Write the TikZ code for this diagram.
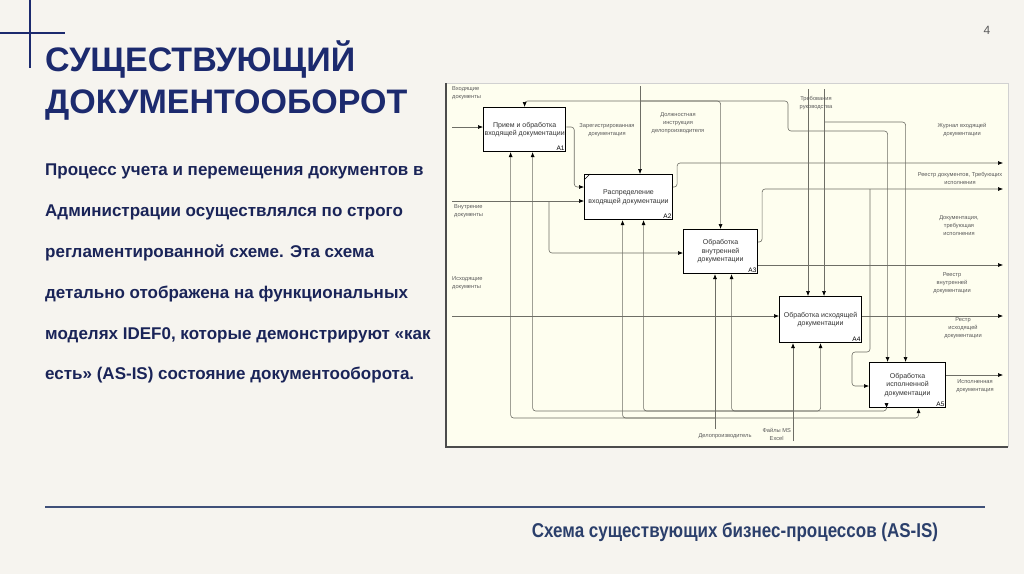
\documentclass[tikz,border=0pt]{standalone}
\usepackage{fontspec}
\setmainfont{Liberation Sans}
\newfontfamily\narrowfont[FakeStretch=0.85]{Liberation Sans}
\usepackage{xcolor}
\usepackage{tikz}
\usetikzlibrary{arrows.meta,positioning}
\definecolor{pagebg}{HTML}{F6F4EF}
\definecolor{navy}{HTML}{1C2A6E}
\definecolor{textnavy}{HTML}{1A2458}
\definecolor{rulenavy}{HTML}{3F5079}
\definecolor{capnavy}{HTML}{2B3F6B}
\definecolor{paper}{HTML}{FEFEEF}
\definecolor{wiregray}{HTML}{6E6E66}

\begin{document}
\begin{tikzpicture}[x=1pt, y=-1pt,
  head/.style={font=\fontsize{34}{34}\selectfont\bfseries, text=navy, inner sep=0pt, anchor=base west},
  body/.style={font=\fontsize{17}{40.8}\selectfont\bfseries, text=textnavy, inner sep=0pt, align=left, anchor=north west},
  box/.style={draw, line width=1.1pt, fill=white, align=center, inner sep=1pt, anchor=north west, font=\fontsize{7}{8.6}\selectfont, text=black!80},
  num/.style={font=\fontsize{6.5}{7}\selectfont, inner sep=1.5pt, anchor=south east},
  lbl/.style={font=\fontsize{5.7}{8}\selectfont, text=black!65, align=center, inner sep=0pt},
  wire/.style={draw=wiregray, line width=0.6pt, rounded corners=3pt},
  arr/.style={wire, -{Latex[length=5pt, width=4pt, color=black]}}]
  \useasboundingbox (0,0) rectangle (1024,574);
  \fill[pagebg] (0,0) rectangle (1024,574);
  % corner mark, headline, page number
  \draw[navy, line width=1.3pt] (30,0) -- (30,68);
  \draw[navy, line width=1.3pt] (0,33) -- (65,33);
  \node[head] (head1) at (45,71) {СУЩЕСТВУЮЩИЙ};
  \node[head] (head2) at (45,113) {ДОКУМЕНТООБОРОТ};
  \node[font=\fontsize{12}{12}\selectfont, text=black!65] (page) at (987,30) {4};
  % text on the left
  \node[body] (intro) at (45,164) {Процесс учета и перемещения документов в\\Администрации осуществлялся по строго\\регламентированной схеме. Эта схема\\детально отображена на функциональных\\моделях IDEF0, которые демонстрируют «как\\есть» (AS-IS) состояние документооборота.};
  % IDEF0 sheet
  \fill[paper] (446,83) rectangle (1008,447);
  \draw[black!18] (446,447) -- (446,83) -- (1008,83) -- (1008,447);
  \draw[black!70, line width=1.2pt] (446,83) -- (446,447) -- (1008,447);
  % blocks A1--A5
  \node[box, minimum width=82pt, minimum height=44pt] (A1) at (483,107) {Прием и обработка\\входящей документации};
  \node[box, minimum width=88pt, minimum height=45pt] (A2) at (584,174) {Распределение\\входящей документации};
  \node[box, minimum width=74pt, minimum height=44pt] (A3) at (683,229) {Обработка\\внутренней\\документации};
  \node[box, minimum width=82pt, minimum height=46pt] (A4) at (779,296) {Обработка исходящей\\документации};
  \node[box, minimum width=76pt, minimum height=45pt] (A5) at (869,362) {Обработка\\исполненной\\документации};
  \node[num] (n1) at (A1.south east) {A1};
  \node[num] (n2) at (A2.south east) {A2};
  \node[num] (n3) at (A3.south east) {A3};
  \node[num] (n4) at (A4.south east) {A4};
  \node[num] (n5) at (A5.south east) {A5};
  \draw[line width=0.6pt] (A2.north west) ++(0,6) -- ++(6,-6);
  % free ends of the arrows
  \coordinate (in1) at (452,127);
  \coordinate (in2) at (452,201);
  \coordinate (in3) at (452,316);
  \coordinate (ctl1) at (640,86);
  \coordinate (ctl2) at (808,89);
  \coordinate (ctl3) at (824,89);
  \coordinate (out1) at (1003,163);
  \coordinate (out2) at (1003,189);
  \coordinate (out3) at (1003,265);
  \coordinate (out4) at (1003,316);
  \coordinate (out5) at (1003,375);
  \coordinate (mech1) at (715,429);
  \coordinate (mech2) at (793,441);
  % inputs
  \draw[arr] (in1) -- (in1 -| A1.west);
  \draw[arr] (in2) -- (in2 -| A2.west);
  \draw[arr] (in2 -| 549,0) |- (A3.west |- 0,253);
  \draw[arr] (A1.east |- in1) -- ++(8,0) |- (A2.west |- 0,187);
  \draw[arr] (in3) -- (in3 -| A4.west);
  \draw[arr] (out2 -| 870,0) |- (852,352) |- (A5.west |- 0,386);
  % controls
  \draw[arr] (ctl1) -- (ctl1 |- A2.north);
  \draw[arr] (ctl1 |- 0,101) -| (A1.north);
  \draw[arr] (ctl1 |- 0,101) -| (A3.north);
  \draw[arr] (ctl1 |- 0,101) -| (788,131) -| ([xshift=-20pt]A5.north);
  \draw[arr] (ctl2) -- (ctl2 |- A4.north);
  \draw[arr] (ctl3) -- (ctl3 |- A4.north);
  \draw[arr] (ctl3 |- 0,122) -| ([xshift=-2pt]A5.north);
  % outputs
  \draw[arr] (A2.east |- 0,187) -- ++(4,0) |- (out1);
  \draw[arr] (A3.east |- 0,242) -- ++(4,0) |- (out2);
  \draw[arr] (A3.east |- out3) -- (out3);
  \draw[arr] (A4.east |- out4) -- (out4);
  \draw[arr] (A5.east |- out5) -- (out5);
  % mechanisms
  \draw[arr] (mech1) -- (mech1 |- A3.south);
  \draw[arr] (mech1 |- 0,418) -| ([xshift=-14pt]A1.south);
  \draw[arr] (mech1 |- 0,418) -| ([xshift=-6pt]A2.south);
  \draw[arr] (mech1 |- 0,418) -| ([xshift=11pt]A5.south);
  \draw[arr] (mech2) -- (mech2 |- A4.south);
  \draw[arr] (mech2 |- 0,411) -| ([xshift=8pt]A1.south);
  \draw[arr] (mech2 |- 0,411) -| ([xshift=15pt]A2.south);
  \draw[arr] (mech2 |- 0,411) -| ([xshift=11pt]A3.south);
  \draw[arr] (mech2 |- 0,411) -| (A4.south);
  \draw[arr] (mech2 |- 0,411) -| ([xshift=-21pt]A5.south);
  % arrow labels
  \node[lbl, align=left, anchor=north west] (lIn1) at (452,86) {Входящие\\документы};
  \node[lbl, align=left, anchor=north west] (lIn2) at (454,204) {Внутрение\\документы};
  \node[lbl, align=left, anchor=north west] (lIn3) at (452,276) {Исходящие\\документы};
  \node[lbl] (lReg) at (607,130) {Зарегистрированная\\документация};
  \node[lbl] (lInstr) at (678,123) {Должностная\\инструкция\\делопроизводителя};
  \node[lbl] (lReq) at (816,103) {Требования\\руководства};
  \node[lbl] (lJour) at (962,130) {Журнал входящей\\документации};
  \node[lbl] (lList) at (960,178) {Реестр документов, Требующих\\исполнения};
  \node[lbl] (lDoc) at (959,226) {Документация,\\требующая\\исполнения};
  \node[lbl] (lInt) at (952,283) {Реестр\\внутренней\\документации};
  \node[lbl] (lOut) at (963,328) {Рестр\\исходящей\\документации};
  \node[lbl] (lDone) at (975,386) {Исполненная\\документация};
  \node[lbl] (lClerk) at (725,436) {Делопроизводитель};
  \node[lbl, anchor=east] (lFiles) at (791,434) {Файлы MS\\Excel};
  % footer
  \draw[rulenavy, line width=1.3pt] (45,507) -- (985,507);
  \node[font=\narrowfont\bfseries\fontsize{20}{20}\selectfont, text=capnavy] (caption) at (735,532) {Схема существующих бизнес-процессов (AS-IS)};
\end{tikzpicture}
\end{document}
